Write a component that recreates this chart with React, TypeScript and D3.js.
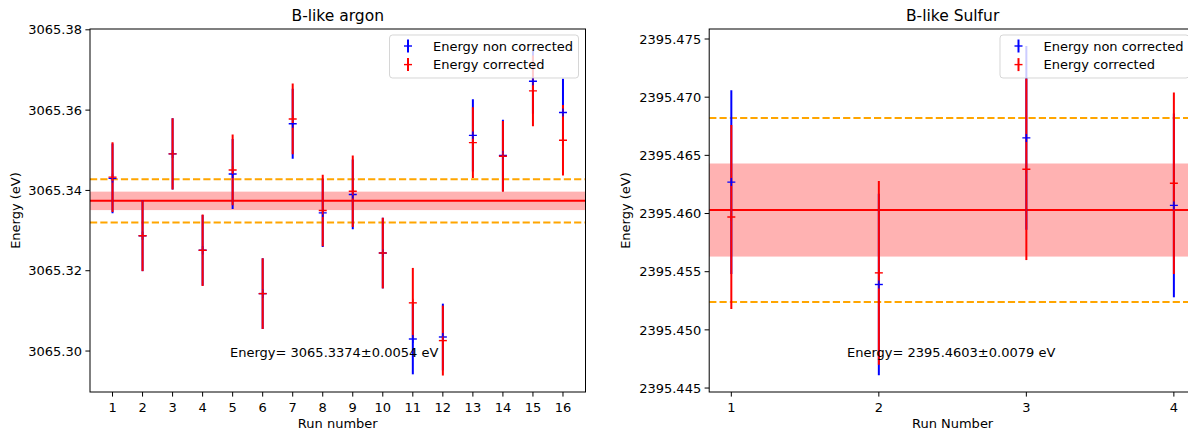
import React from 'react';
import * as d3 from 'd3';

// B-like argon, 16 runs
const argonRuns = [1, 2, 3, 4, 5, 6, 7, 8, 9, 10, 11, 12, 13, 14, 15, 16];
const argonNonCorr = [3065.3430, 3065.3287, 3065.3491, 3065.3251, 3065.3441, 3065.3143, 3065.3566, 3065.3344,
    3065.3390, 3065.3244, 3065.3030, 3065.3035, 3065.3537, 3065.3487, 3065.3672, 3065.3594];
const argonNonCorrErr = [0.0087, 0.0088, 0.0089, 0.0088, 0.0087, 0.0088, 0.0087, 0.0085,
    0.0087, 0.0088, 0.0088, 0.0083, 0.0090, 0.0089, 0.0081, 0.0084];
const argonCorr = [3065.3433, 3065.3287, 3065.3491, 3065.3251, 3065.3451, 3065.3143, 3065.3578, 3065.3350,
    3065.3398, 3065.3244, 3065.3120, 3065.3026, 3065.3519, 3065.3485, 3065.3648, 3065.3525];
const argonCorrErr = [0.0087, 0.0088, 0.0089, 0.0089, 0.0088, 0.0088, 0.0088, 0.0089,
    0.0089, 0.0088, 0.0087, 0.0087, 0.0088, 0.0088, 0.0088, 0.0088];
const argonMean = 3065.3374;
const argonSigma = 0.0054;
const argonBand = 0.0023;
const argonYTicks = [3065.30, 3065.32, 3065.34, 3065.36, 3065.38];

// B-like sulfur, 4 runs
const sulfurRuns = [1, 2, 3, 4];
const sulfurNonCorr = [2395.4627, 2395.4539, 2395.4665, 2395.4607];
const sulfurNonCorrErr = [0.0079, 0.0078, 0.0079, 0.0079];
const sulfurCorr = [2395.4597, 2395.4549, 2395.4638, 2395.4626];
const sulfurCorrErr = [0.0079, 0.0079, 0.0078, 0.0078];
const sulfurMean = 2395.4603;
const sulfurSigma = 0.0079;
const sulfurBand = 0.0040;
const sulfurYTicks = [2395.445, 2395.450, 2395.455, 2395.460, 2395.465, 2395.470, 2395.475];

const FONT = 'DejaVu Sans, sans-serif';
const BLUE = '#0000ff';
const RED = '#ff0000';
const ORANGE = '#ffa500';

interface PanelProps {
    title: string;
    xLabel: string;
    runs: number[];
    nonCorr: number[];
    nonCorrErr: number[];
    corr: number[];
    corrErr: number[];
    mean: number;
    sigma: number;
    band: number;
    yTicks: number[];
    yDecimals: number;
    xDomain: [number, number];
    yDomain: [number, number];
    left: number;
    right: number;
    top: number;
    bottom: number;
    tickLabelGap: number;
    yLabelX: number;
    noteX: number;
    noteY: number;
    clipId: string;
}

const Panel: React.FC<PanelProps> = (p) => {
    const x = d3.scaleLinear().domain(p.xDomain).range([p.left, p.right]);
    const y = d3.scaleLinear().domain(p.yDomain).range([p.bottom, p.top]);
    const fmt = d3.format(`.${p.yDecimals}f`);
    const half = 4; // half width of the '+' marker

    // one series of error bars + '+' markers
    const bars = (vals: number[], errs: number[], color: string) =>
        p.runs.map((r, i) => (
            <line key={`b${i}`} x1={x(r)} x2={x(r)} y1={y(vals[i] - errs[i])} y2={y(vals[i] + errs[i])}
                stroke={color} strokeWidth={2} />
        ));
    const markers = (vals: number[], color: string) =>
        p.runs.map((r, i) => (
            <g key={`m${i}`} stroke={color} strokeWidth={1.4}>
                <line x1={x(r) - half} x2={x(r) + half} y1={y(vals[i])} y2={y(vals[i])} />
                <line x1={x(r)} x2={x(r)} y1={y(vals[i]) - half} y2={y(vals[i]) + half} />
            </g>
        ));

    const legendW = 189;
    const legendX = p.right - 7 - legendW;
    const legendY = 35;
    const legendItems = [
        { label: 'Energy non corrected', color: BLUE },
        { label: 'Energy corrected', color: RED },
    ];

    return (
        <g fontFamily={FONT}>
            <defs>
                <clipPath id={p.clipId}>
                    <rect x={p.left} y={p.top} width={p.right - p.left} height={p.bottom - p.top} />
                </clipPath>
            </defs>
            <g clipPath={`url(#${p.clipId})`}>
                <rect x={p.left} y={y(p.mean + p.band)} width={p.right - p.left}
                    height={y(p.mean - p.band) - y(p.mean + p.band)} fill={RED} fillOpacity={0.3} />
                <line x1={p.left} x2={p.right} y1={y(p.mean)} y2={y(p.mean)} stroke={RED} strokeWidth={2} />
                {[p.mean + p.sigma, p.mean - p.sigma].map((v, i) => (
                    <line key={i} x1={p.left} x2={p.right} y1={y(v)} y2={y(v)} stroke={ORANGE}
                        strokeWidth={2} strokeDasharray="7.2,3.1" />
                ))}
                {bars(p.nonCorr, p.nonCorrErr, BLUE)}
                {bars(p.corr, p.corrErr, RED)}
                {markers(p.nonCorr, BLUE)}
                {markers(p.corr, RED)}
            </g>

            {/* legend */}
            <rect x={legendX} y={legendY} width={legendW} height={43} rx={3} fill="#fff" fillOpacity={0.8}
                stroke="#cccccc" strokeOpacity={0.8} />
            {legendItems.map((d, i) => {
                const cy = legendY + 11 + i * 18.6;
                const mx = legendX + 18.5;
                return (
                    <g key={d.label}>
                        <g stroke={d.color}>
                            <line x1={mx} x2={mx} y1={cy - 6.5} y2={cy + 6.5} strokeWidth={2} />
                            <line x1={mx - half} x2={mx + half} y1={cy} y2={cy} strokeWidth={1.4} />
                        </g>
                        <text x={legendX + 43.5} y={cy} dy="0.36em" fontSize={13} fill="#000">{d.label}</text>
                    </g>
                );
            })}

            <text x={p.noteX} y={p.noteY} fontSize={13} fill="#000">
                Energy= {p.mean.toFixed(4)}±{p.sigma.toFixed(4)} eV
            </text>

            {/* frame */}
            <rect x={p.left} y={p.top} width={p.right - p.left} height={p.bottom - p.top} fill="none"
                stroke="#000" strokeWidth={1} />

            {/* x axis */}
            {p.runs.map(r => (
                <g key={`xt${r}`}>
                    <line x1={x(r)} x2={x(r)} y1={p.bottom} y2={p.bottom + 4.6} stroke="#000" strokeWidth={1} />
                    <text x={x(r)} y={p.bottom + 20} textAnchor="middle" fontSize={13} fill="#000">{r}</text>
                </g>
            ))}
            <text x={(p.left + p.right) / 2} y={p.bottom + 35.5} textAnchor="middle" fontSize={13} fill="#000">
                {p.xLabel}
            </text>

            {/* y axis */}
            {p.yTicks.map(t => (
                <g key={`yt${t}`}>
                    <line x1={p.left - 4.6} x2={p.left} y1={y(t)} y2={y(t)} stroke="#000" strokeWidth={1} />
                    <text x={p.left - p.tickLabelGap} y={y(t)} dy="0.36em" textAnchor="end" fontSize={13}
                        fill="#000">{fmt(t)}</text>
                </g>
            ))}
            <text transform={`translate(${p.yLabelX},${(p.top + p.bottom) / 2}) rotate(-90)`} textAnchor="middle"
                fontSize={13} fill="#000">Energy (eV)</text>

            <text x={(p.left + p.right) / 2} y={p.top - 8} textAnchor="middle" fontSize={15.5} fill="#000">
                {p.title}
            </text>
        </g>
    );
};

const App: React.FC = () => (
    <svg width={1188} height={430} style={{ position: 'absolute', left: 0, top: 0, background: '#fff' }}>
        <rect width={1188} height={430} fill="#fff" />
        <Panel title="B-like argon" xLabel="Run number" runs={argonRuns}
            nonCorr={argonNonCorr} nonCorrErr={argonNonCorrErr} corr={argonCorr} corrErr={argonCorrErr}
            mean={argonMean} sigma={argonSigma} band={argonBand} yTicks={argonYTicks} yDecimals={2}
            xDomain={[0.25, 16.75]} yDomain={[3065.2898, 3065.3802]}
            left={90} right={585.5} top={29} bottom={392} tickLabelGap={8} yLabelX={20}
            noteX={230} noteY={356.5} clipId="clipA" />
        <Panel title="B-like Sulfur" xLabel="Run Number" runs={sulfurRuns}
            nonCorr={sulfurNonCorr} nonCorrErr={sulfurNonCorrErr} corr={sulfurCorr} corrErr={sulfurCorrErr}
            mean={sulfurMean} sigma={sulfurSigma} band={sulfurBand} yTicks={sulfurYTicks} yDecimals={3}
            xDomain={[0.85, 4.15]} yDomain={[2395.44466, 2395.47586]}
            left={709.2} right={1196} top={29} bottom={392} tickLabelGap={8} yLabelX={630}
            noteX={847} noteY={356.5} clipId="clipS" />
    </svg>
);

export default App;
